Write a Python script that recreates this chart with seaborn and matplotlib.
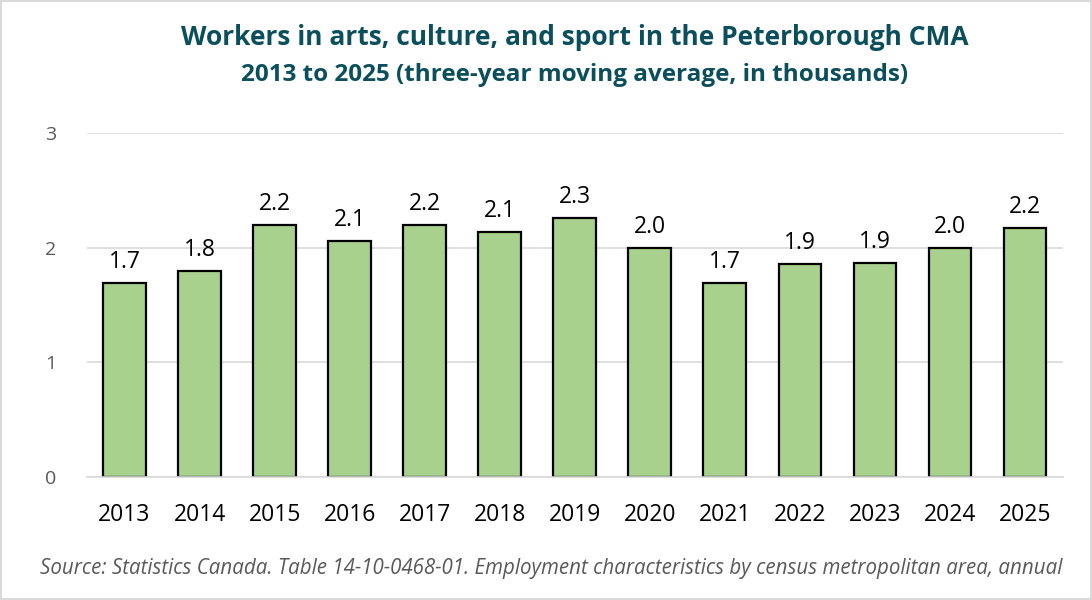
import pandas as pd
import numpy as np
import matplotlib.pyplot as plt
import seaborn as sns

# Three-year moving average of arts/culture/sport workers, thousands
years = ['2013', '2014', '2015', '2016', '2017', '2018', '2019',
         '2020', '2021', '2022', '2023', '2024', '2025']
workers = [1.69, 1.80, 2.20, 2.06, 2.20, 2.14, 2.26,
           2.00, 1.69, 1.86, 1.87, 2.00, 2.17]

df = pd.DataFrame({'Year': years, 'Workers': workers})

sns.set_theme(style='white')
plt.rcParams['font.family'] = ['Open Sans', 'DejaVu Sans']

fig = plt.figure(figsize=(10.92, 6.0), dpi=100)
ax = fig.add_axes([0.0797, 0.205, 0.8933, 0.573])

sns.barplot(x='Year', y='Workers', data=df, color='#a9d18e',
            edgecolor='black', linewidth=1.6, width=0.57, saturation=1, ax=ax)

ax.set_ylim(0, 3)
ax.set_xlim(-0.5, len(years) - 0.5)
ax.set_yticks([0, 1, 2, 3])
ax.yaxis.grid(True, color='#d9d9d9', linewidth=1.2)
ax.set_axisbelow(True)
for s in ['top', 'right', 'left']:
    ax.spines[s].set_visible(False)
ax.spines['bottom'].set_color('#d9d9d9')
ax.spines['bottom'].set_linewidth(1.2)
ax.tick_params(axis='y', labelsize=14, colors='#595959', length=0, pad=22)
ax.tick_params(axis='x', labelsize=16.5, colors='black', length=0, pad=19)
ax.set_xlabel('')
ax.set_ylabel('')

for i, v in enumerate(workers):
    ax.text(i, v + 0.08, f'{v:.1f}', ha='center', va='bottom', fontsize=16.5, color='black')

fig.text(0.526, 0.937, 'Workers in arts, culture, and sport in the Peterborough CMA',
         ha='center', va='center', fontsize=19, fontweight='bold', color='#0b4f5c')
fig.text(0.526, 0.875, '2013 to 2025 (three-year moving average, in thousands)',
         ha='center', va='center', fontsize=17.5, fontweight='bold', color='#0b4f5c')
fig.text(0.505, 0.053, 'Source: Statistics Canada. Table 14-10-0468-01. Employment characteristics by census metropolitan area, annual',
         ha='center', va='center', fontsize=14.8, style='italic', color='#595959')

# thin light border around the figure
fig.patches.append(plt.Rectangle((0.001, 0.001), 0.998, 0.998, transform=fig.transFigure,
                                 fill=False, edgecolor='#d9d9d9', linewidth=1.5))

fig.savefig('out.png', dpi=100)
